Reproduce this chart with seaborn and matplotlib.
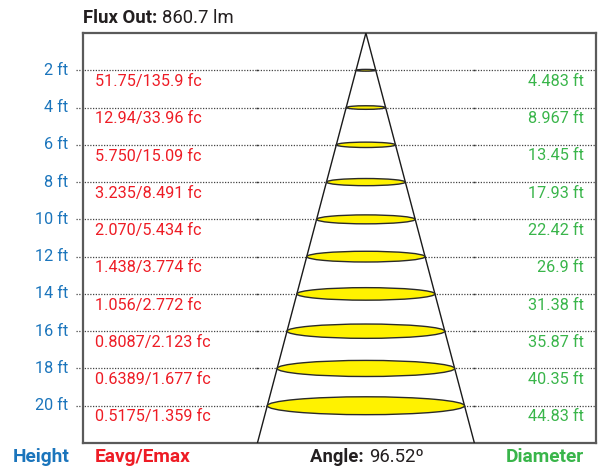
import numpy as np
import pandas as pd
import seaborn as sns
import matplotlib.pyplot as plt
from matplotlib.patches import Ellipse

# data
heights = [2, 4, 6, 8, 10, 12, 14, 16, 18, 20]
eavg_emax = ["51.75/135.9", "12.94/33.96", "5.750/15.09", "3.235/8.491", "2.070/5.434",
             "1.438/3.774", "1.056/2.772", "0.8087/2.123", "0.6389/1.677", "0.5175/1.359"]
diameters = ["4.483", "8.967", "13.45", "17.93", "22.42", "26.9", "31.38", "35.87", "40.35", "44.83"]
flux_out = "860.7"
angle = "96.52"

BLUE = "#1b75bc"
RED = "#ee1c25"
GREEN = "#39b54a"
DARK = "#231f20"

sns.set_theme(style="white")
plt.rcParams['font.family'] = ['Roboto', 'DejaVu Sans']

fig = plt.figure(figsize=(6.06, 4.67), dpi=100)
ax = fig.add_axes([83/606, 1-443/467, 513/606, 410/467])
ytr = ax.get_yaxis_transform()

# cone outline, extended to the bottom of the frame
y_max = 22
half_slope = float(diameters[-1]) / heights[-1] / 2
cone = pd.DataFrame({"x": [-half_slope*y_max, 0, half_slope*y_max], "y": [y_max, 0, y_max]})
sns.lineplot(data=cone, x="x", y="y", sort=False, color="#1a1a1a", lw=1.0, ax=ax, zorder=3)

for h, ill, d in zip(heights, eavg_emax, diameters):
    dia = float(d)
    ax.axhline(h, xmin=-0.0136, xmax=1, color="#444444", lw=0.9, ls=(0, (1, 1.2)),
               clip_on=False, zorder=1)
    # small marks where the base of the cone meets each row
    ax.plot([-half_slope*y_max, half_slope*y_max], [h, h], ls="none", marker="s",
            ms=1.1, mew=0, color="#333333", zorder=2)
    ax.add_patch(Ellipse((0, h), dia, 0.048*h, facecolor="#fff200",
                         edgecolor="#2a2a2a", lw=1.0, zorder=4))
    ax.text(-0.0292, h, f"{h} ft", color=BLUE, fontsize=11.7, ha="right", va="center",
            transform=ytr)
    ax.text(0.0234, h + 0.6, f"{ill} fc", color=RED, fontsize=11.7, ha="left", va="center",
            transform=ytr)
    ax.text(0.9766, h + 0.6, f"{d} ft", color=GREEN, fontsize=11.7, ha="right", va="center",
            transform=ytr)

ax.set_xlim(-64.3, 52.3)
ax.set_ylim(y_max, 0)
ax.set_xticks([])
ax.set_yticks([])
ax.set_xlabel("")
ax.set_ylabel("")
for s in ax.spines.values():
    s.set_visible(True)
    s.set_color("#5a5a5a")
    s.set_linewidth(1.6)

# titles with bold / regular parts
fig.canvas.draw()
renderer = fig.canvas.get_renderer()

def two_part(x, y, bold, regular, ha="left", size=13.3):
    t1 = fig.text(x, y, bold, fontsize=size, fontweight="bold", color=DARK, va="center")
    t2 = fig.text(x, y, regular, fontsize=size, color=DARK, va="center")
    w1 = t1.get_window_extent(renderer).width / fig.bbox.width
    w2 = t2.get_window_extent(renderer).width / fig.bbox.width
    x0 = x - (w1 + w2) / 2 if ha == "center" else x
    t1.set_x(x0)
    t2.set_x(x0 + w1)

two_part(83/606, 1-18/467, "Flux Out: ", f"{flux_out} lm")
two_part(367/606, 1-457/467, "Angle: ", f"{angle}º", ha="center")

fig.text(70/606, 1-457/467, "Height", color=BLUE, fontsize=13.8, fontweight="bold",
         ha="right", va="center")
fig.text(95/606, 1-457/467, "Eavg/Emax", color=RED, fontsize=13.8, fontweight="bold",
         ha="left", va="center")
fig.text(584/606, 1-457/467, "Diameter", color=GREEN, fontsize=13.8, fontweight="bold",
         ha="right", va="center")

fig.savefig("out.png", dpi=100)
